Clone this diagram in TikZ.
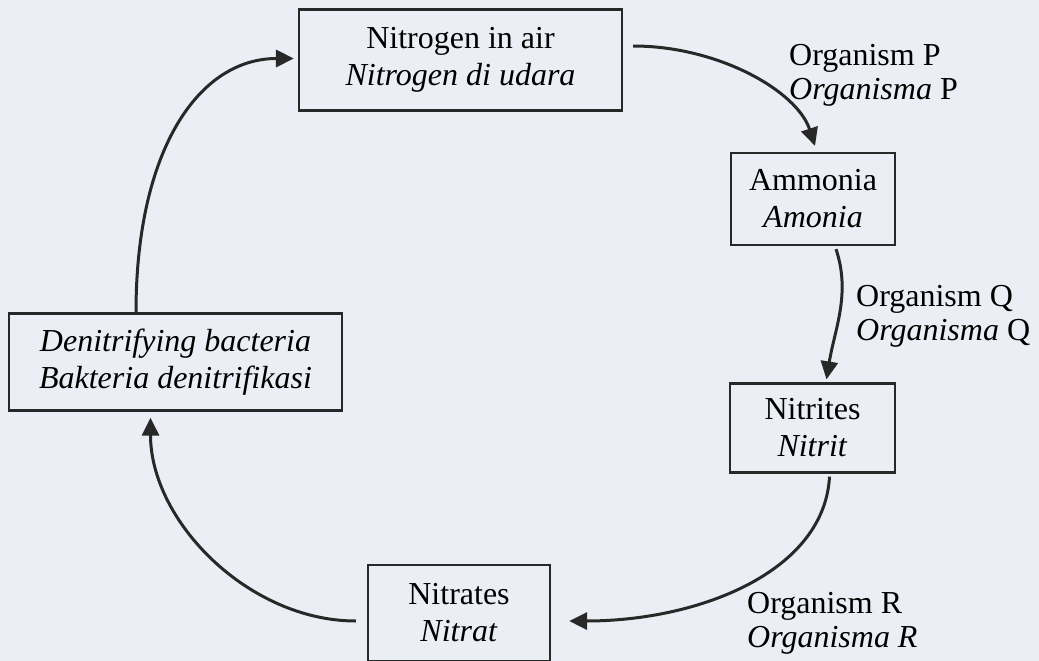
\documentclass[tikz,border=0pt]{standalone}
\usepackage{fontspec}
\setmainfont{Liberation Serif}
\usetikzlibrary{arrows.meta}
\definecolor{bgc}{RGB}{236,238,245}
\definecolor{ink}{RGB}{40,40,40}
\tikzset{
  box/.style={draw=ink, line width=2.2pt, fill=bgc, align=center, inner sep=0pt, text=black,
    font=\fontsize{32}{37}\selectfont},
  lab/.style={anchor=west, align=left, inner sep=0pt, text=black, font=\fontsize{32}{34}\selectfont},
  flow/.style={draw=ink, line width=3pt, -{Triangle[length=18pt,width=17pt]}}
}
\begin{document}
\begin{tikzpicture}[x=1pt,y=-1pt]
\fill[bgc] (0,0) rectangle (1039,661);
\useasboundingbox (0,0) rectangle (1039,661);

\node[box, minimum width=323pt, minimum height=101pt] (nit) at (460.5,60) {Nitrogen in air\\\textit{Nitrogen di udara}};
\node[box, minimum width=164pt, minimum height=92pt] (amm) at (813,199) {Ammonia\\\textit{Amonia}};
\node[box, minimum width=165pt, minimum height=89pt] (nitr) at (812.5,428) {Nitrites\\\textit{Nitrit}};
\node[box, minimum width=182pt, minimum height=96pt] (nitra) at (459,613) {Nitrates\\\textit{Nitrat}};
\node[box, minimum width=333pt, minimum height=97pt] (den) at (175.5,362) {\textit{Denitrifying bacteria}\\\textit{Bakteria denitrifikasi}};

\node[lab] (lp) at (789,75) {Organism P\\\textit{Organisma} P};
\node[lab] (lq) at (856,316) {Organism Q\\\textit{Organisma} Q};
\node[lab] (lr) at (747,623) {Organism R\\\textit{Organisma R}};

\draw[flow] ([xshift=10pt,yshift=14pt]nit.east) .. controls +(85,0) and +(-18,-55) .. ([xshift=2pt,yshift=6pt]amm.north);
\draw[flow] ([xshift=23pt,yshift=-3pt]amm.south) .. controls +(15,45) and +(8,-50) .. ([xshift=14pt,yshift=3pt]nitr.north);
\draw[flow] ([xshift=17pt,yshift=-3pt]nitr.south) .. controls +(-5,95) and +(130,0) .. ([xshift=18pt,yshift=-8pt]nitra.east);
\draw[flow] ([xshift=-11pt,yshift=-8pt]nitra.west) .. controls +(-107,0) and +(0,104) .. ([xshift=-25pt,yshift=-6pt]den.south);
\draw[flow] ([xshift=-39.5pt]den.north) .. controls +(0,-163) and +(-95,0) .. ([xshift=-4pt,yshift=1.5pt]nit.west);
\end{tikzpicture}
\end{document}
